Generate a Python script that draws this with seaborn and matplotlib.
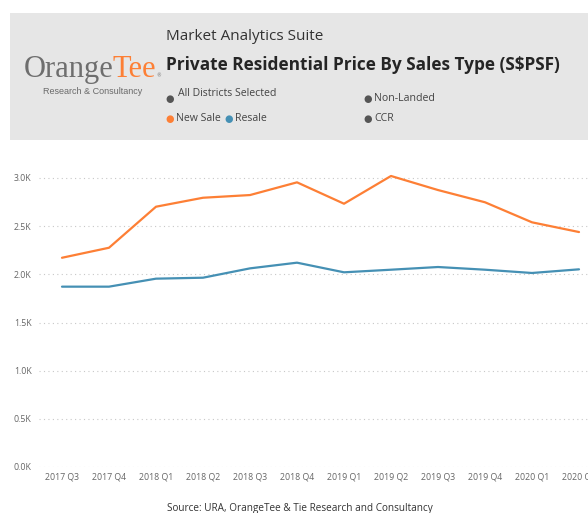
import pandas as pd
import seaborn as sns
import matplotlib.pyplot as plt
from matplotlib.patches import Rectangle
from matplotlib.ticker import FuncFormatter

quarters = [
    "2017 Q3", "2017 Q4", "2018 Q1", "2018 Q2", "2018 Q3", "2018 Q4",
    "2019 Q1", "2019 Q2", "2019 Q3", "2019 Q4", "2020 Q1", "2020 Q2",
]
new_sale = [2172, 2276, 2702, 2795, 2823, 2955, 2733, 3021, 2875, 2748, 2540, 2439]
resale = [1872, 1872, 1955, 1965, 2062, 2121, 2021, 2048, 2076, 2048, 2014, 2052]
y_ticks = [0, 500, 1000, 1500, 2000, 2500, 3000]

ORANGE = "#FD7F35"
BLUE = "#4590B4"
GREY_TXT = "#666666"

sns.set_theme(style="white")
plt.rcParams["font.family"] = ["Open Sans", "DejaVu Sans"]

data = pd.DataFrame({
    "quarter": quarters * 2,
    "price": new_sale + resale,
    "type": ["New Sale"] * len(quarters) + ["Resale"] * len(quarters),
})

W, H = 588, 513
fig = plt.figure(figsize=(W / 100, H / 100), dpi=100)

# header panel
fig.patches.append(Rectangle(
    (10 / W, 1 - 140 / H), 1 - 10 / W, 127 / H,
    transform=fig.transFigure, facecolor="#e6e6e6", edgecolor="none", zorder=0,
))

# logo: "Orange" in grey, "Tee" in orange right after it
logo = fig.text(24 / W, 1 - 77 / H, "Orange", family=["Liberation Serif"],
                fontsize=22, color="#6e6e6e", va="baseline")
fig.canvas.draw()
bb = logo.get_window_extent(fig.canvas.get_renderer())
tee = fig.text((bb.x1 - 1) / W, 1 - 77 / H, "Tee", family=["Liberation Serif"],
               fontsize=22, color=ORANGE, va="baseline")
fig.canvas.draw()
bb2 = tee.get_window_extent(fig.canvas.get_renderer())
fig.text(bb2.x1 / W, 1 - 77 / H, "\u00ae", family=["DejaVu Sans"],
         fontsize=3.5, color="#6e6e6e", va="baseline")
fig.text(93 / W, 1 - 92 / H, "Research & Consultancy", fontsize=6.5,
         color="#6a6a6a", ha="center", va="center",
         family=["Liberation Sans"])

# titles
fig.text(166 / W, 1 - 37 / H, "Market Analytics Suite", fontsize=11,
         color="#333333", va="center")
fig.text(166 / W, 1 - 65 / H, "Private Residential Price By Sales Type (S$PSF)",
         fontsize=12.4, fontweight="bold", color="#252525", va="center")

# filter chips
chips = [
    (170, 99, "#555555", 178, 94, "All Districts Selected"),
    (368, 99, "#555555", 374, 99, "Non-Landed"),
    (170, 119, ORANGE, 176, 119, "New Sale"),
    (229, 119, BLUE, 235, 119, "Resale"),
    (368, 119, "#555555", 374, 119, "CCR"),
]
for dx, dy, col, tx, ty, label in chips:
    fig.text(dx / W, 1 - dy / H, "\u25cf", color=col, fontsize=7,
             ha="center", va="center", family=["DejaVu Sans"])
    fig.text(tx / W, 1 - ty / H, label, color="#444444", fontsize=7.6,
             ha="left", va="center")

# chart area
left_px, bottom_px = 38.5, 467
band = 47.0
x_max = (W - left_px) / band - 0.5
y_top = 3200
px_per_unit = (467 - 178) / 3000
top_px = bottom_px - y_top * px_per_unit
ax = fig.add_axes([left_px / W, 1 - bottom_px / H,
                   1 - left_px / W, (bottom_px - top_px) / H])

sns.lineplot(
    data=data, x="quarter", y="price", hue="type",
    palette={"New Sale": ORANGE, "Resale": BLUE},
    linewidth=1.6, legend=False, ax=ax, sort=False,
)

ax.set_xlim(-0.5, x_max)
ax.set_ylim(0, y_top)
ax.set_yticks(y_ticks)
ax.yaxis.set_major_formatter(FuncFormatter(lambda v, _: f"{v / 1000:.1f}K"))
ax.grid(axis="y", color="#c8c8c8", linestyle=(0, (1, 3)), linewidth=0.8)
ax.grid(axis="x", visible=False)
for s in ax.spines.values():
    s.set_visible(False)
ax.set_xlabel("")
ax.set_ylabel("")
ax.tick_params(axis="both", length=0, labelsize=6.3, labelcolor=GREY_TXT)
ax.tick_params(axis="y", pad=5)
ax.tick_params(axis="x", pad=4)
ax.set_facecolor("none")

fig.text(300 / W, 1 - 509 / H,
         "Source: URA, OrangeTee & Tie Research and Consultancy",
         fontsize=7.2, color="#333333", ha="center", va="center")

fig.savefig("out.png", dpi=100)
